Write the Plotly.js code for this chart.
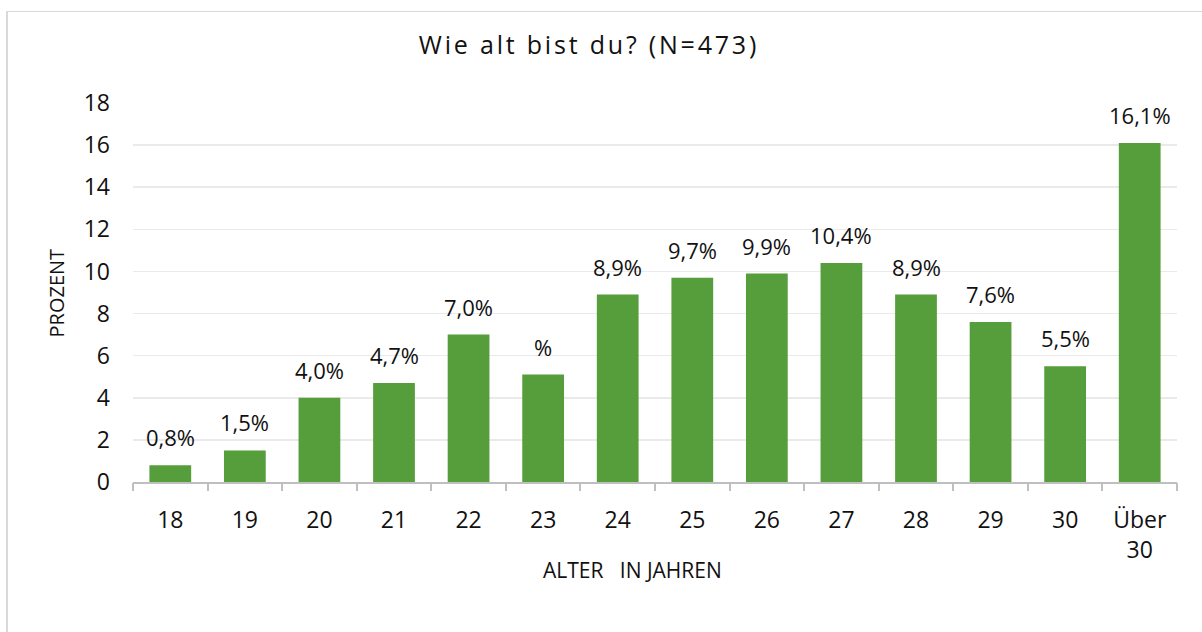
<!DOCTYPE html>
<html>
<head>
<meta charset="utf-8">
<script src="https://cdn.plot.ly/plotly-3.0.1.min.js"></script>
<style>
  html, body { margin: 0; padding: 0; background: #ffffff; overflow: hidden; }
  #chart { width: 1202px; height: 632px; }
  #frame { position: absolute; left: 6px; top: 11px; width: 1400px; height: 800px;
           border-left: 2px solid #D9D9D9; border-top: 1px solid #D9D9D9;
           pointer-events: none; z-index: 5; }
  .gtitle { letter-spacing: 2.8px; }
</style>
</head>
<body>
<div id="frame"></div>
<div id="chart"></div>
<script>
const categories = ["18", "19", "20", "21", "22", "23", "24", "25", "26", "27", "28", "29", "30", "Über<br>30"];
const values = [0.8, 1.5, 4.0, 4.7, 7.0, 5.1, 8.9, 9.7, 9.9, 10.4, 8.9, 7.6, 5.5, 16.1];
const labels = ["0,8%", "1,5%", "4,0%", "4,7%", "7,0%", "%", "8,9%", "9,7%", "9,9%", "10,4%", "8,9%", "7,6%", "5,5%", "16,1%"];
const yTicks = [0, 2, 4, 6, 8, 10, 12, 14, 16, 18];

const FONT = "Open Sans, Lato, sans-serif";
const TEXT = "#111111";
const BAR_COLOR = "#559E3B";
const positions = categories.map((c, i) => i);

const trace = {
  type: "bar",
  x: positions,
  y: values,
  marker: { color: BAR_COLOR },
  width: 0.56
};

const annotations = positions.map((p, i) => ({
  x: p, y: values[i], xref: "x", yref: "y",
  text: labels[i], showarrow: false,
  yanchor: "bottom", yshift: 11,
  font: { family: FONT, size: 22, color: TEXT }
}));

annotations.push({
  text: "ALTER&nbsp;&nbsp; IN JAHREN", xref: "paper", yref: "paper",
  x: 0.478, y: -0.232, xanchor: "center", yanchor: "middle", showarrow: false,
  font: { family: FONT, size: 21, color: TEXT }
});
annotations.push({
  text: "PROZENT", xref: "paper", yref: "paper", textangle: -90,
  x: -0.0728, y: 0.5, xanchor: "center", yanchor: "middle", showarrow: false,
  font: { family: FONT, size: 20, color: TEXT }
});

const layout = {
  width: 1202, height: 632,
  paper_bgcolor: "#ffffff", plot_bgcolor: "#ffffff",
  margin: { l: 133, r: 25, t: 103, b: 150 },
  title: {
    text: "Wie alt bist du? (N=473)",
    font: { family: FONT, size: 25, color: TEXT },
    xref: "container", yref: "container",
    x: 0.49, xanchor: "center", y: 0.929, yanchor: "middle"
  },
  showlegend: false,
  xaxis: {
    type: "linear",
    range: [-0.5, 13.5],
    tickvals: positions,
    ticktext: categories,
    tickangle: 0,
    showline: true, linecolor: "#BFBFBF", linewidth: 2,
    ticks: "", showgrid: false, zeroline: false,
    tickfont: { family: FONT, size: 23, color: TEXT },
    ticklabelstandoff: 16
  },
  xaxis2: {
    overlaying: "x", matches: "x", anchor: "y",
    range: [-0.5, 13.5],
    tickvals: positions.map(p => p - 0.5).concat([13.5]),
    ticktext: positions.map(() => "").concat([""]),
    ticks: "outside", ticklen: 8, tickcolor: "#BFBFBF", tickwidth: 2,
    showgrid: false, zeroline: false, showline: false
  },
  yaxis: {
    range: [0, 18],
    tickvals: yTicks,
    ticktext: yTicks.map(String),
    showgrid: true, gridcolor: "#EAEAEA", gridwidth: 1.5,
    zeroline: false, showline: false, ticks: "",
    tickfont: { family: FONT, size: 23, color: TEXT },
    ticklabelstandoff: 22
  },
  annotations: annotations
};

const tickTrace = { type: "scatter", x: [], y: [], xaxis: "x2", yaxis: "y", hoverinfo: "skip" };

Plotly.newPlot("chart", [trace, tickTrace], layout, { displayModeBar: false, staticPlot: true });
</script>
</body>
</html>
